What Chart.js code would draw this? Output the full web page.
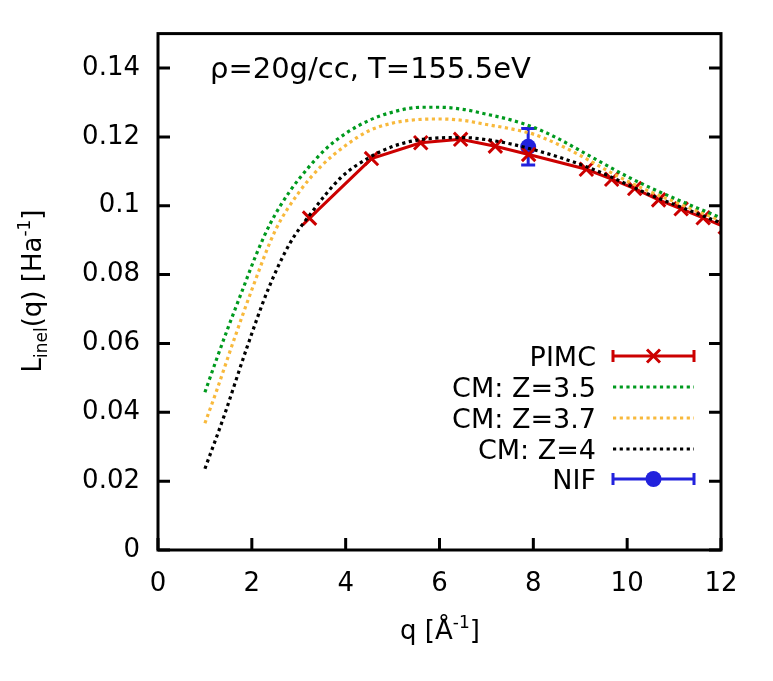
<!DOCTYPE html>
<html><head><meta charset="utf-8">
<script src="https://cdn.jsdelivr.net/npm/chart.js@4.4.1/dist/chart.umd.min.js"></script>
<style>html,body{margin:0;padding:0;background:#fff;} canvas{display:block;}</style>
</head><body>
<canvas id="c" width="773" height="681"></canvas>
<script>
// ---- data ----
const xTicks = [0, 2, 4, 6, 8, 10, 12];
const yTicks = [0, 0.02, 0.04, 0.06, 0.08, 0.10, 0.12, 0.14];
const yTickLabels = ['0', '0.02', '0.04', '0.06', '0.08', '0.1', '0.12', '0.14'];

const qPIMC = [3.23, 4.55, 5.60, 6.45, 7.19, 7.90, 9.13, 9.67, 10.16, 10.67, 11.15, 11.62, 12.09];
const LPIMC = [0.0964, 0.1137, 0.1183, 0.1193, 0.1173, 0.1149, 0.1106, 0.1077, 0.1050, 0.1017, 0.0991, 0.0965, 0.0938];

const qCM35 = [1.0, 1.25, 1.5, 1.8, 2.1, 2.4, 2.8, 3.2, 3.6, 4.0, 4.5, 5.0, 5.6, 6.0, 6.5, 7.0, 7.5, 8.0, 8.5, 9.0, 9.5, 10.0, 10.5, 11.0, 11.5, 12.0];
const LCM35 = [0.0458, 0.0555, 0.0648, 0.0755, 0.0860, 0.0950, 0.1040, 0.1110, 0.1168, 0.1210, 0.1248, 0.1272, 0.1286, 0.1286, 0.1280, 0.1266, 0.1250, 0.1228, 0.1197, 0.1160, 0.1122, 0.1085, 0.1052, 0.1022, 0.0993, 0.0965];

const qCM37 = [1.0, 1.25, 1.6, 2.0, 2.5, 3.0, 3.5, 4.0, 4.5, 5.0, 5.5, 6.0, 6.5, 7.0, 7.5, 8.0, 8.5, 9.0, 9.5, 10.0, 10.5, 11.0, 11.5, 12.0];
const LCM37 = [0.0368, 0.0463, 0.0603, 0.0756, 0.0928, 0.1038, 0.1118, 0.1175, 0.1218, 0.1240, 0.1250, 0.1252, 0.1248, 0.1236, 0.1224, 0.1208, 0.1180, 0.1146, 0.1108, 0.1072, 0.1040, 0.1012, 0.0984, 0.0957];

const qCM4 = [1.0, 1.4, 1.9, 2.35, 2.8, 3.25, 3.9, 4.5, 5.0, 5.5, 6.0, 6.5, 7.0, 7.5, 8.0, 8.5, 9.0, 9.5, 10.0, 10.5, 11.0, 11.5, 12.0];
const LCM4 = [0.0236, 0.0386, 0.0590, 0.0758, 0.0888, 0.0976, 0.1082, 0.1140, 0.1172, 0.1190, 0.1197, 0.1198, 0.1192, 0.1180, 0.1163, 0.1143, 0.1120, 0.1093, 0.1062, 0.1031, 0.1004, 0.0977, 0.0950];

const qNIF = [7.89];
const LNIF = [0.1171];
const errNIF = [0.0053];

// ---- styling ----
const FONT = "'DejaVu Sans', sans-serif";
const RED = '#cc0000', GREEN = '#009a1e', YELLOW = '#f8b93c', BLACK = '#000000', BLUE = '#2222dd';

const pts = (xs, ys) => xs.map((x, i) => ({x: x, y: ys[i]}));

function rich(ctx, parts, x, y, align) {
  let w = 0;
  parts.forEach(p => { ctx.font = p.s + 'px ' + FONT; p.w = ctx.measureText(p.t).width; w += p.w; });
  let cx = align === 'center' ? x - w / 2 : (align === 'right' ? x - w : x);
  ctx.textAlign = 'left';
  ctx.textBaseline = 'alphabetic';
  parts.forEach(p => { ctx.font = p.s + 'px ' + FONT; ctx.fillText(p.t, cx, y + (p.dy || 0)); cx += p.w; });
}

function drawCross(ctx, x, y, r, color, lw) {
  ctx.save(); ctx.strokeStyle = color; ctx.lineWidth = lw;
  ctx.beginPath();
  ctx.moveTo(x - r, y - r); ctx.lineTo(x + r, y + r);
  ctx.moveTo(x - r, y + r); ctx.lineTo(x + r, y - r);
  ctx.stroke(); ctx.restore();
}

const deco = {
  id: 'deco',
  beforeDatasetsDraw(chart) {
    const ctx = chart.ctx, xs = chart.scales.x, ys = chart.scales.y;
    ctx.save();
    ctx.strokeStyle = BLUE; ctx.lineWidth = 3;
    qNIF.forEach((q, i) => {
      const px = xs.getPixelForValue(q);
      const top = ys.getPixelForValue(LNIF[i] + errNIF[i]);
      const bot = ys.getPixelForValue(LNIF[i] - errNIF[i]);
      ctx.beginPath();
      ctx.moveTo(px, top); ctx.lineTo(px, bot);
      ctx.moveTo(px - 7, top); ctx.lineTo(px + 7, top);
      ctx.moveTo(px - 7, bot); ctx.lineTo(px + 7, bot);
      ctx.stroke();
    });
    ctx.restore();
  },
  afterDraw(chart) {
    const ctx = chart.ctx, a = chart.chartArea, xs = chart.scales.x, ys = chart.scales.y;
    ctx.save();
    // ticks (inward)
    ctx.strokeStyle = '#000'; ctx.lineWidth = 3; ctx.lineCap = 'butt';
    ctx.beginPath();
    xTicks.forEach(v => { const px = xs.getPixelForValue(v); ctx.moveTo(px, a.bottom); ctx.lineTo(px, a.bottom - 12); });
    yTicks.forEach(v => { const py = ys.getPixelForValue(v);
      ctx.moveTo(a.left, py); ctx.lineTo(a.left + 12, py);
      ctx.moveTo(a.right, py); ctx.lineTo(a.right - 12, py); });
    ctx.stroke();
    // frame
    ctx.lineWidth = 3;
    ctx.strokeRect(a.left, a.top, a.right - a.left, a.bottom - a.top);

    ctx.fillStyle = '#000';
    // annotation title
    rich(ctx, [{t: 'ρ=20g/cc, T=155.5eV', s: 29}], 210, 78, 'left');
    // x axis title
    rich(ctx, [{t: 'q [Å', s: 26}, {t: '-1', s: 17, dy: -11}, {t: ']', s: 26}], 440, 639, 'center');
    // y axis title
    ctx.save();
    ctx.translate(41, 291); ctx.rotate(-Math.PI / 2);
    rich(ctx, [{t: 'L', s: 26}, {t: 'inel', s: 17, dy: 6}, {t: '(q) [Ha', s: 26}, {t: '-1', s: 17, dy: -11}, {t: ']', s: 26}], 0, 0, 'center');
    ctx.restore();

    // legend
    const rows = [
      {label: 'PIMC', kind: 'err', color: RED, mark: 'x'},
      {label: 'CM: Z=3.5', kind: 'dot', color: GREEN},
      {label: 'CM: Z=3.7', kind: 'dot', color: YELLOW},
      {label: 'CM: Z=4', kind: 'dot', color: BLACK},
      {label: 'NIF', kind: 'err', color: BLUE, mark: 'o'}
    ];
    const rowY = [356, 387, 418, 449, 479];
    const tx = 596, l0 = 613, l1 = 694, mx = 653.5;
    rows.forEach((r, i) => {
      const y = rowY[i];
      ctx.fillStyle = '#000';
      rich(ctx, [{t: r.label, s: 27}], tx, y + 10, 'right');
      ctx.strokeStyle = r.color;
      if (r.kind === 'dot') {
        ctx.save(); ctx.lineWidth = 3.2; ctx.setLineDash([3.2, 3.5]);
        ctx.beginPath(); ctx.moveTo(l0, y); ctx.lineTo(l1, y); ctx.stroke(); ctx.restore();
      } else {
        ctx.save(); ctx.lineWidth = 3;
        ctx.beginPath(); ctx.moveTo(l0, y); ctx.lineTo(l1, y);
        ctx.moveTo(l0, y - 6); ctx.lineTo(l0, y + 6);
        ctx.moveTo(l1, y - 6); ctx.lineTo(l1, y + 6);
        ctx.stroke(); ctx.restore();
        if (r.mark === 'x') drawCross(ctx, mx, y, 6.5, r.color, 3);
        else { ctx.fillStyle = r.color; ctx.beginPath(); ctx.arc(mx, y, 8, 0, Math.PI * 2); ctx.fill(); }
      }
    });
    ctx.restore();
  }
};

const dotted = (label, xs, ys, color) => ({
  label: label, data: pts(xs, ys), borderColor: color, backgroundColor: color,
  borderWidth: 3.2, borderDash: [3.2, 3.5], borderCapStyle: 'butt',
  pointRadius: 0, cubicInterpolationMode: 'monotone', fill: false
});

new Chart(document.getElementById('c'), {
  type: 'line',
  data: {
    datasets: [
      dotted('CM: Z=3.5', qCM35, LCM35, GREEN),
      dotted('CM: Z=3.7', qCM37, LCM37, YELLOW),
      dotted('CM: Z=4', qCM4, LCM4, BLACK),
      {label: 'PIMC', data: pts(qPIMC, LPIMC), borderColor: RED, backgroundColor: RED,
       borderWidth: 3, pointStyle: 'crossRot', pointRadius: 9.5, pointBorderWidth: 3,
       pointHoverRadius: 9.5, tension: 0, clip: 0, fill: false},
      {label: 'NIF', data: pts(qNIF, LNIF), borderColor: BLUE, backgroundColor: BLUE,
       showLine: false, pointStyle: 'circle', pointRadius: 8, pointBorderWidth: 0, fill: false}
    ]
  },
  options: {
    responsive: false, animation: false, devicePixelRatio: 1,
    layout: {padding: {left: 0, top: 32, right: 52, bottom: 0}},
    plugins: {legend: {display: false}, tooltip: {enabled: false}, title: {display: false}},
    scales: {
      x: {
        type: 'linear', min: 0, max: 12,
        grid: {display: false, drawTicks: false}, border: {display: false},
        afterBuildTicks: s => { s.ticks = xTicks.map(v => ({value: v})); },
        afterFit: s => { s.height = 131; },
        ticks: {color: '#000', font: {family: FONT, size: 26}, padding: 19, maxRotation: 0,
                callback: v => String(v)}
      },
      y: {
        type: 'linear', min: 0, max: 0.15,
        grid: {display: false, drawTicks: false}, border: {display: false},
        afterBuildTicks: s => { s.ticks = yTicks.map(v => ({value: v})); },
        afterFit: s => { s.width = 158; },
        ticks: {color: '#000', font: {family: FONT, size: 26}, padding: 18,
                callback: (v, i) => yTickLabels[i]}
      }
    }
  },
  plugins: [deco]
});
</script>
</body></html>
